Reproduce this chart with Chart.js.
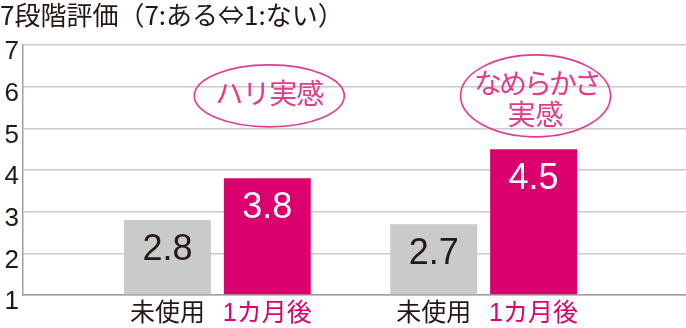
<!DOCTYPE html>
<html>
<head>
<meta charset="utf-8">
<script src="https://cdn.jsdelivr.net/npm/chart.js@4"></script>
<style>
  html, body { margin: 0; padding: 0; background: #fff; }
  #wrap { width: 686px; height: 328px; }
</style>
</head>
<body>
<div id="wrap"><canvas id="evalChart"></canvas></div>
<script>
const groups = ['ハリ実感', 'なめらかさ\n実感'];
const seriesNames = ['未使用', '1カ月後'];
const beforeValues = [2.8, 2.7];
const afterValues = [3.8, 4.5];
const yTicks = [1, 2, 3, 4, 5, 6, 7];

const GRAY = '#c9caca';
const MAGENTA = '#dc006e';
const PINK = '#e5398c';
const INK = '#231815';
const NUM_FONT = '"Liberation Sans", Helvetica, Arial, sans-serif';
const JP_FONT = '"Liberation Sans", "Noto Sans CJK JP", sans-serif';
const CAT_PCT = 0.75;

const ctx = document.getElementById('evalChart').getContext('2d');

// value labels inside bars + ellipse captions above the right bar of each group
const barText = {
  id: 'barText',
  afterDatasetsDraw(chart) {
    const c = chart.ctx;
    const y = chart.scales.y;
    c.save();
    c.textAlign = 'center';
    c.textBaseline = 'middle';
    c.font = '36px ' + NUM_FONT;
    chart.data.datasets.forEach((ds, di) => {
      chart.getDatasetMeta(di).data.forEach((bar, i) => {
        c.fillStyle = di === 0 ? INK : '#fff';
        c.fillText(ds.data[i].y.toFixed(1), bar.x, bar.y + 30);
      });
    });
    const meta = chart.getDatasetMeta(1);
    groups.forEach((g, i) => {
      const cx = meta.data[i].x + 2;
      const cy = y.getPixelForValue(5.78);
      const lines = g.split('\n');
      const two = lines.length > 1;
      c.beginPath();
      c.ellipse(cx, cy, 75, two ? 41 : 31, 0, 0, Math.PI * 2);
      c.strokeStyle = PINK;
      c.lineWidth = 1.6;
      c.stroke();
      c.fillStyle = PINK;
      c.font = '28px ' + JP_FONT;
      if (two) {
        c.letterSpacing = '-3px';
        c.fillText(lines[0], cx + 1, cy - 10);
        c.letterSpacing = '0px';
        c.fillText(lines[1], cx, cy + 21);
      } else {
        c.letterSpacing = '-1px';
        c.fillText(lines[0], cx, cy);
        c.letterSpacing = '0px';
      }
    });
    c.restore();
  }
};

new Chart(ctx, {
  type: 'bar',
  data: {
    datasets: [{
      label: seriesNames[0],
      data: beforeValues.map((v, i) => ({ x: i, y: v })),
      backgroundColor: GRAY,
      base: 1
    }, {
      label: seriesNames[1],
      data: afterValues.map((v, i) => ({ x: i, y: v })),
      backgroundColor: MAGENTA,
      base: 1
    }]
  },
  options: {
    responsive: true,
    maintainAspectRatio: false,
    animation: false,
    categoryPercentage: CAT_PCT,
    barPercentage: 0.87,
    layout: { padding: 0 },
    scales: {
      x: {
        type: 'linear',
        offset: false,
        min: -0.73,
        max: 1.76,
        afterBuildTicks: (s) => { s.ticks = groups.map((g, i) => ({ value: i })); },
        ticks: { display: false },
        grid: { display: false, drawTicks: false, offset: false },
        border: { display: true, color: '#9fa0a0', width: 1.5 }
      },
      xLabels: {
        type: 'linear',
        position: 'bottom',
        display: true,
        offset: false,
        min: -0.73,
        max: 1.76,
        afterBuildTicks: (s) => {
          const t = [];
          groups.forEach((g, i) => {
            t.push({ value: i - CAT_PCT / 4 });
            t.push({ value: i + CAT_PCT / 4 });
          });
          s.ticks = t;
        },
        afterFit: (s) => { s.height = 33; },
        ticks: {
          autoSkip: false,
          maxRotation: 0,
          padding: 4,
          font: { family: JP_FONT, size: 25 },
          color: (c) => (c.index % 2 === 0 ? INK : MAGENTA),
          callback: (v, i) => seriesNames[i % 2]
        },
        grid: { display: false, drawTicks: false, offset: false },
        border: { display: false }
      },
      y: {
        min: 1,
        max: 7,
        afterBuildTicks: (s) => { s.ticks = yTicks.map(v => ({ value: v })); },
        afterFit: (s) => { s.width = 23; },
        ticks: {
          padding: 4,
          labelOffset: 7,
          color: INK,
          font: { family: NUM_FONT, size: 26 }
        },
        grid: { color: '#c9caca', lineWidth: 1.5, drawTicks: false },
        border: { display: true, color: '#9fa0a0', width: 1.5 }
      }
    },
    plugins: {
      legend: { display: false },
      tooltip: { enabled: false },
      title: {
        display: true,
        text: '7段階評価（7:ある⇔1:ない）',
        align: 'start',
        color: INK,
        font: { family: '"Noto Sans CJK JP", sans-serif', size: 26, weight: 'normal', lineHeight: 1.2 },
        padding: { top: 0, bottom: 13.8 }
      }
    }
  },
  plugins: [barText]
});
</script>
</body>
</html>
